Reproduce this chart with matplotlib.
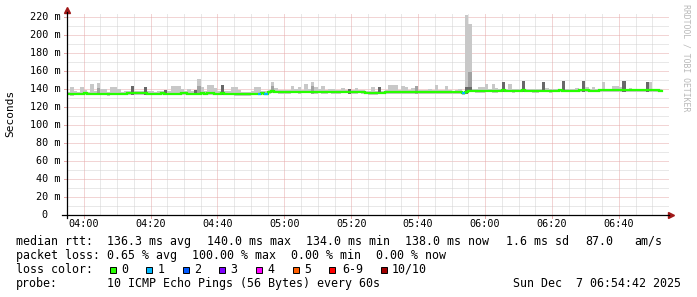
import matplotlib
matplotlib.use("Agg")
import matplotlib.pyplot as plt
import numpy as np
from matplotlib.patches import Rectangle
from matplotlib.lines import Line2D

# one sample per minute, starting 03:55
median = [
    134.4, 134.6, 135.0, 134.8, 134.6, 135.2, 135.0, 134.6, 134.4, 134.8,
    135.0, 134.6, 134.4, 134.6, 134.8, 135.0, 134.8, 134.6, 135.2, 135.8,
    135.8, 135.2, 135.6, 135.4, 135.0, 134.8, 134.6, 135.0, 135.4, 135.0,
    134.6, 134.6, 134.8, 135.0, 135.2, 135.4, 135.0, 134.8, 134.6, 135.0,
    135.2, 135.0, 135.4, 135.2, 135.0, 135.0, 135.2, 134.8, 134.6, 134.6,
    134.4, 134.2, 134.0, 134.2, 134.4, 134.6, 134.8, 135.0, 135.4, 135.0,
    136.8, 137.4, 137.0, 136.6, 136.4, 136.6, 136.8, 137.0, 137.2, 136.8,
    137.0, 137.2, 137.0, 136.8, 136.8, 137.0, 136.6, 136.8, 137.0, 136.8,
    136.6, 136.8, 137.0, 137.2, 136.8, 136.6, 136.8, 137.0, 136.4, 135.8,
    135.6, 135.4, 135.6, 135.8, 136.0, 136.2, 136.6, 136.8, 136.6, 136.4,
    136.6, 136.8, 136.6, 136.4, 136.2, 136.6, 136.8, 136.6, 136.4, 136.2,
    136.4, 136.6, 136.8, 136.6, 136.4, 136.6, 136.8, 136.4, 135.4, 136.4,
    138.0, 138.2, 137.8, 137.4, 137.8, 138.0, 138.2, 137.8, 137.6, 138.0,
    138.4, 138.2, 138.0, 137.8, 138.0, 138.2, 138.4, 138.2, 138.0, 137.8,
    137.8, 138.0, 138.2, 138.0, 137.8, 138.0, 138.2, 138.4, 138.2, 138.0,
    138.2, 138.0, 138.2, 138.4, 138.6, 138.4, 138.2, 138.0, 138.2, 138.4,
    138.6, 139.0, 138.8, 138.6, 138.4, 138.6, 138.8, 138.6, 138.8, 139.0,
    138.8, 138.6, 138.8, 139.0, 138.8, 138.6, 138.8, 138.0,
]
smoke_hi = [
    137.0, 142.0, 137.5, 137.0, 142.0, 139.0, 137.0, 145.5, 137.5, 146.5,
    140.0, 140.0, 137.0, 142.0, 142.0, 140.5, 137.0, 138.0, 137.5, 143.0,
    138.0, 137.5, 138.0, 142.5, 138.0, 137.5, 137.0, 137.5, 138.0, 138.5,
    137.5, 143.0, 143.0, 143.0, 140.5, 138.0, 139.5, 137.5, 137.5, 151.5,
    142.0, 138.0, 144.0, 144.0, 141.5, 137.5, 144.5, 138.0, 137.5, 142.5,
    142.5, 138.5, 137.0, 136.5, 137.0, 137.5, 142.0, 142.0, 137.5, 137.5,
    139.0, 148.0, 141.5, 139.0, 138.5, 139.0, 139.0, 143.0, 139.5, 142.0,
    139.0, 145.0, 139.5, 148.0, 142.0, 139.5, 143.0, 139.0, 140.5, 140.5,
    139.0, 139.0, 141.5, 139.0, 140.5, 139.0, 141.5, 139.0, 139.0, 137.5,
    137.5, 142.0, 137.5, 142.5, 138.0, 138.5, 145.0, 145.0, 145.0, 139.0,
    143.0, 142.5, 139.0, 141.0, 143.0, 139.0, 138.5, 138.5, 140.5, 138.5,
    144.0, 139.0, 138.5, 143.0, 138.5, 138.0, 138.5, 140.5, 137.0, 222.0,
    212.0, 139.5, 140.0, 142.0, 142.0, 145.5, 140.5, 145.5, 141.0, 140.0,
    148.0, 140.0, 145.5, 140.0, 140.5, 140.0, 148.5, 140.0, 140.5, 140.0,
    140.0, 140.5, 147.5, 141.5, 140.0, 140.0, 139.5, 140.0, 148.5, 140.0,
    140.0, 140.5, 141.0, 140.0, 149.0, 142.0, 140.0, 142.0, 140.0, 140.0,
    148.0, 140.5, 140.0, 143.0, 143.0, 142.0, 148.5, 140.5, 141.5, 140.0,
    140.5, 140.0, 140.0, 147.5, 147.5, 140.0, 140.0, 139.5,
]
smoke_lo = [
    133.0, 132.6, 133.4, 133.0, 132.8, 133.4, 133.2, 132.8, 132.8, 133.0,
    133.2, 132.8, 132.6, 133.0, 133.0, 133.4, 133.0, 132.8, 133.4, 133.8,
    133.8, 133.4, 133.6, 133.4, 133.2, 133.0, 132.8, 133.2, 133.6, 133.2,
    132.8, 132.8, 133.0, 133.2, 133.4, 133.6, 133.2, 133.0, 132.8, 133.2,
    133.4, 133.2, 133.6, 133.4, 133.2, 133.2, 133.4, 133.0, 132.8, 132.8,
    132.6, 132.4, 132.2, 132.4, 132.6, 132.8, 133.0, 133.2, 133.6, 133.2,
    135.0, 135.4, 135.2, 134.8, 134.6, 134.8, 135.0, 135.2, 135.4, 135.0,
    135.2, 135.4, 135.2, 135.0, 135.0, 135.2, 134.8, 135.0, 135.2, 135.0,
    134.8, 135.0, 135.2, 135.4, 135.0, 134.8, 135.0, 135.2, 134.6, 134.0,
    133.8, 133.6, 133.8, 134.0, 134.2, 134.4, 134.8, 135.0, 134.8, 134.6,
    134.8, 135.0, 134.8, 134.6, 134.4, 134.8, 135.0, 134.8, 134.6, 134.4,
    134.6, 134.8, 135.0, 134.8, 134.6, 134.8, 135.0, 134.6, 133.6, 134.6,
    136.2, 136.4, 136.0, 135.6, 136.0, 136.2, 136.4, 136.0, 135.8, 136.2,
    136.6, 136.4, 136.2, 136.0, 136.2, 136.4, 136.6, 136.4, 136.2, 136.0,
    136.0, 136.2, 136.4, 136.2, 136.0, 136.2, 136.4, 136.6, 136.4, 136.2,
    136.4, 136.2, 136.4, 136.6, 136.8, 136.6, 136.4, 136.2, 136.4, 136.6,
    136.8, 137.2, 137.0, 136.8, 136.6, 136.8, 137.0, 136.8, 137.0, 137.2,
    137.0, 136.8, 137.0, 137.2, 137.0, 136.8, 137.0, 136.2,
]
# denser inner smoke (minute index, top value)
mid_min = [9, 39, 61, 73, 104, 120]
mid_top = [141.0, 143.0, 143.0, 143.0, 143.0, 159.0]
core_min = [19, 23, 29, 38, 46, 84, 93, 119, 120, 130, 136, 142, 148, 154, 166, 173]
core_top = [143.0, 142.5, 138.5, 138.5, 144.5, 140.5, 142.5, 142.0, 142.0,
            148.0, 148.5, 147.5, 148.5, 148.5, 148.5, 147.5]
# minutes with lost pings
loss_min = [57, 59, 118]
loss_cnt = [1, 1, 1]

loss_labels = ["0", "1", "2", "3", "4", "5", "6-9", "10/10"]
loss_colors = ["#26ff00", "#00b8ff", "#0059ff", "#7e00ff", "#ff00ff",
               "#ff5e00", "#ff0000", "#a00000"]
time_labels = ["04:00", "04:20", "04:40", "05:00", "05:20", "05:40",
               "06:00", "06:20", "06:40"]
time_pos = [5, 25, 45, 65, 85, 105, 125, 145, 165]

W, H = 697, 297
fx = lambda px: px / W
fy = lambda py: 1 - py / H

fig = plt.figure(figsize=(W / 100, H / 100), dpi=100)
fig.patch.set_facecolor("white")
ax = fig.add_axes([fx(67), fy(215), (669 - 67) / W, (215 - 12.5) / H])
ax.set_xlim(0, 180)
ax.set_ylim(0, 225)
for s in ax.spines.values():
    s.set_visible(False)
ax.set_xticks([])
ax.set_yticks([])

mono = "DejaVu Sans Mono"
minor_c = "#d2d2d2"
major_c = "#e6aaaa"
dot = (0, (1, 1))

# grid
for v in range(10, 221, 10):
    ax.axhline(v, color=major_c if v % 20 == 0 else minor_c, lw=0.72,
               ls=dot, zorder=0)
for m in range(5, 180, 5):
    ax.axvline(m, color=major_c if m in time_pos else minor_c, lw=0.72,
               ls=dot, zorder=0)
# small tick stubs
for v in range(20, 221, 20):
    ax.plot([-0.9, 0], [v, v], color=major_c, lw=0.72, clip_on=False)
for m in time_pos:
    ax.plot([m, m], [0, -3.3], color=major_c, lw=0.72, clip_on=False)

# smoke
n = len(median)
x = np.arange(n)
lo = np.array(smoke_lo)
ax.bar(x, np.array(smoke_hi) - lo, bottom=lo, width=1, align="edge",
       color="#c8c8c8", linewidth=0, zorder=2)
mi = np.array(mid_min)
ax.bar(mi, np.array(mid_top) - lo[mi], bottom=lo[mi], width=1, align="edge",
       color="#a2a2a2", linewidth=0, zorder=3)
ci = np.array(core_min)
ax.bar(ci, np.array(core_top) - lo[ci], bottom=lo[ci], width=1, align="edge",
       color="#686868", linewidth=0, zorder=4)

# median line coloured by loss
ax.step(np.arange(n + 1), median + [median[-1]], where="post",
        color=loss_colors[0], lw=1.6, zorder=5, solid_joinstyle="miter")
for m, c in zip(loss_min, loss_cnt):
    ax.hlines(median[m], m, m + 1, color=loss_colors[c], lw=1.6, zorder=6)

# axes lines and arrows
fig.add_artist(Line2D([fx(67), fx(67)], [fy(218), fy(12)], color="black", lw=0.9))
fig.add_artist(Line2D([fx(62), fx(669)], [fy(215), fy(215)], color="black", lw=0.9))
ax.plot([0], [1.012], marker="^", ms=4, color="#a01818", mec="#a01818",
        transform=ax.transAxes, clip_on=False)
ax.plot([1.004], [0], marker=">", ms=4, color="#a01818", mec="#a01818",
        transform=ax.transAxes, clip_on=False)

# axis labels
for v in range(0, 221, 20):
    if v == 0:
        fig.text(fx(48), fy(215), "0", ha="right", va="center",
                 family=mono, fontsize=7.3)
    else:
        fig.text(fx(60.5), fy(215 - v * 0.9), f"{v} m", ha="right",
                 va="center", family=mono, fontsize=7.3)
for m, lab in zip(time_pos, time_labels):
    fig.text(fx(67 + m * 602 / 180), fy(224), lab, ha="center", va="center",
             family=mono, fontsize=7.3)
fig.text(fx(10.5), fy(113), "Seconds", rotation=90, ha="center",
         va="center", family=mono, fontsize=8)
fig.text(fx(686), fy(4), "RRDTOOL / TOBI OETIKER", rotation=270, ha="center",
         va="top", family=mono, fontsize=5.9, color="#b8b8b8")

# legend block
fs = 8.4
def txt(px, py, s, ha="left"):
    fig.text(fx(px), fy(py), s, ha=ha, va="center", family=mono, fontsize=fs)

y1, y2, y3, y4 = 241.5, 255.5, 269.5, 283.5
txt(16, y1, "median rtt:")
for px, s in [(107, "136.3 ms avg"), (207, "140.0 ms max"), (306, "134.0 ms min"),
              (405, "138.0 ms now"), (506, "1.6 ms sd"), (585, "87.0"),
              (634, "am/s")]:
    txt(px, y1, s)
txt(16, y2, "packet loss:")
for px, s in [(107, "0.65 % avg"), (192, "100.00 % max"), (291, "0.00 % min"),
              (376, "0.00 % now")]:
    txt(px, y2, s)
txt(16, y3, "loss color:")
sq_x = [109.5, 146, 182.7, 219.3, 256, 292.7, 329.3, 381]
lab_x = [121, 157.5, 194, 230.7, 267.3, 304, 342, 392]
for sx, lx, lab, col in zip(sq_x, lab_x, loss_labels, loss_colors):
    fig.add_artist(Rectangle((fx(sx), fy(272.5)), 6 / W, 6 / H,
                             transform=fig.transFigure, facecolor=col,
                             edgecolor="black", lw=0.7))
    txt(lx, y3, lab)
txt(16, y4, "probe:")
txt(107, y4, "10 ICMP Echo Pings (56 Bytes) every 60s")
txt(681, y4, "Sun Dec  7 06:54:42 2025", ha="right")

fig.savefig("out.png", dpi=100, facecolor="white")
